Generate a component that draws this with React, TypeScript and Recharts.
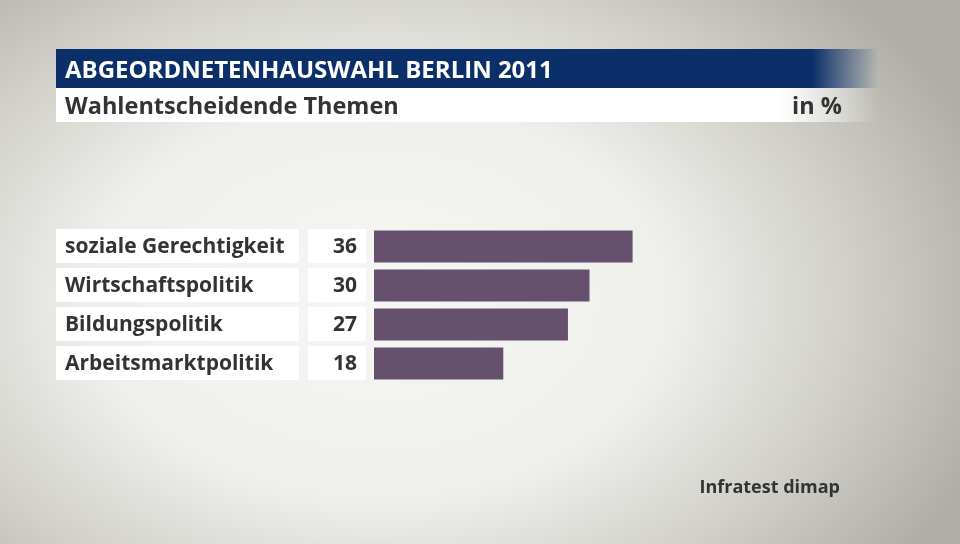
import React from "react";
import { BarChart, Bar, XAxis, YAxis } from "recharts";

const categories = ["soziale Gerechtigkeit", "Wirtschaftspolitik", "Bildungspolitik", "Arbeitsmarktpolitik"];
const values = [36, 30, 27, 18];
const title = "ABGEORDNETENHAUSWAHL BERLIN 2011";
const subtitle = "Wahlentscheidende Themen";
const unit = "in %";
const source = "Infratest dimap";

const data = categories.map((c, i) => ({ name: c, value: values[i] }));

const FONT = "'Open Sans', sans-serif";
const TEXT = "#333333";

const Tick = (props: any) => {
  const { y, payload, index } = props;
  const v = values[index];
  return (
    <g>
      <rect x={56} y={y - 17} width={243} height={34} fill="#ffffff" />
      <rect x={308} y={y - 17} width={58} height={34} fill="#ffffff" />
      <text x={65} y={y + 7} fill={TEXT} fontSize={21} fontWeight={700} fontFamily={FONT}>
        {payload.value}
      </text>
      <text x={357} y={y + 7} textAnchor="end" fill={TEXT} fontSize={21} fontWeight={700} fontFamily={FONT}>
        {v}
      </text>
    </g>
  );
};

export default function App() {
  return (
    <div
      style={{
        position: "fixed",
        left: 0,
        top: 0,
        width: 960,
        height: 544,
        overflow: "hidden",
        background:
          "radial-gradient(ellipse 640px 440px at 380px 300px, #f6f6f4 0%, #efefec 45%, #d2d1cb 72%, #afaea7 100%)",
        fontFamily: FONT,
      }}
    >
      <div
        style={{
          position: "absolute",
          left: 56,
          top: 49,
          width: 822,
          height: 39,
          background: "linear-gradient(to right, #0a2f69 0%, #0a2f69 92%, rgba(10,47,105,0) 100%)",
        }}
      />
      <div
        style={{
          position: "absolute",
          left: 65,
          top: 49,
          height: 39,
          lineHeight: "39px",
          color: "#ffffff",
          fontSize: 24,
          fontWeight: 700,
          whiteSpace: "nowrap",
        }}
      >
        {title}
      </div>
      <div
        style={{
          position: "absolute",
          left: 56,
          top: 88,
          width: 822,
          height: 34,
          background: "linear-gradient(to right, #ffffff 0%, #ffffff 88%, rgba(255,255,255,0) 100%)",
        }}
      />
      <div
        style={{
          position: "absolute",
          left: 65,
          top: 88,
          height: 34,
          lineHeight: "34px",
          color: TEXT,
          fontSize: 23.5,
          fontWeight: 700,
          whiteSpace: "nowrap",
        }}
      >
        {subtitle}
      </div>
      <div
        style={{
          position: "absolute",
          right: 960 - 842,
          top: 88,
          height: 34,
          lineHeight: "34px",
          color: TEXT,
          fontSize: 23.5,
          fontWeight: 700,
          whiteSpace: "nowrap",
        }}
      >
        {unit}
      </div>
      <div
        style={{
          position: "absolute",
          right: 960 - 840,
          top: 474,
          height: 24,
          lineHeight: "24px",
          color: TEXT,
          fontSize: 18,
          fontWeight: 700,
          whiteSpace: "nowrap",
        }}
      >
        {source}
      </div>
      <div style={{ position: "absolute", left: 0, top: 0 }}>
        <BarChart
          width={960}
          height={544}
          data={data}
          layout="vertical"
          margin={{ top: 226.5, bottom: 161.5, left: 0, right: 155 }}
          barSize={32}
        >
          <XAxis type="number" domain={[0, 60]} hide />
          <YAxis
            type="category"
            dataKey="name"
            width={374}
            axisLine={false}
            tickLine={false}
            tick={<Tick />}
            interval={0}
          />
          <Bar dataKey="value" fill="#65516e" isAnimationActive={false} />
        </BarChart>
      </div>
    </div>
  );
}
